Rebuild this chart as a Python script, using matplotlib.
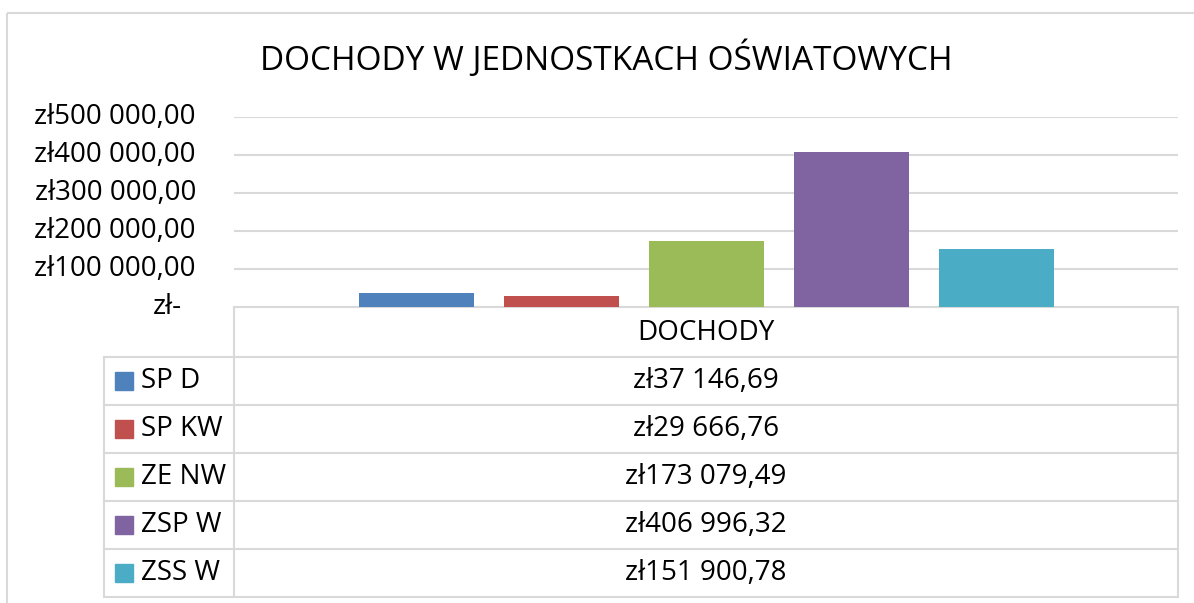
import matplotlib
matplotlib.use("Agg")
import matplotlib.pyplot as plt
from matplotlib.patches import Rectangle

plt.rcParams['font.family'] = ['Open Sans', 'DejaVu Sans']

category = "DOCHODY"
names = ["SP D", "SP KW", "ZE NW", "ZSP W", "ZSS W"]
values = [37146.69, 29666.76, 173079.49, 406996.32, 151900.78]
colors = ["#4F81BD", "#C0504D", "#9BBB59", "#8064A2", "#4BACC6"]
yticks = [0, 100000, 200000, 300000, 400000, 500000]


def zl(v):
    if v == 0:
        return "zł-"
    s = f"{v:,.2f}".replace(",", " ").replace(".", ",")
    return "zł" + s


W, H = 1194, 603
fig = plt.figure(figsize=(W / 100, H / 100), dpi=100)

# overlay in pixel coordinates for frame and data table
ov = fig.add_axes([0, 0, 1, 1])
ov.set_xlim(0, W)
ov.set_ylim(H, 0)
ov.axis("off")
grid_c = "#D9D9D9"
ov.add_patch(Rectangle((7, 13), 1200, 600, fill=False, ec=grid_c, lw=1.5))

# plot area
L, R, T, B = 234, 1178, 117, 307
ax = fig.add_axes([L / W, 1 - B / H, (R - L) / W, (B - T) / H])
n = len(values)
step = 145
span = (R - L) / step
xs = [i - (n - 1) / 2 for i in range(n)]
ax.bar(xs, values, width=115 / step, color=colors, zorder=3)
ax.set_xlim(-span / 2, span / 2)
ax.set_ylim(0, 500000)
ax.set_yticks(yticks)
ax.yaxis.grid(True, color=grid_c, lw=1.5, zorder=0)
ax.tick_params(left=False, bottom=False, labelleft=False, labelbottom=False)
for s in ax.spines.values():
    s.set_visible(False)
for v in yticks:
    off = -38 if v else -52
    ax.annotate(zl(v), (0, v), xycoords=ax.get_yaxis_transform(),
                xytext=(off * 0.72, 0), textcoords="offset points",
                ha="right", va="center", fontsize=20, color="black")

fig.text(606 / W, 1 - 59 / H, "DOCHODY W JEDNOSTKACH OŚWIATOWYCH",
         ha="center", va="center", fontsize=24)

# data table
row_h = 48
top = B
legend_x = 104
ov.plot([L, R], [top, top], color=grid_c, lw=1.5)
for k in range(n + 1):
    y = top + row_h * (k + 1) + 2
    ov.plot([legend_x, R], [y, y], color=grid_c, lw=1.5)
bottom = top + row_h * (n + 1) + 2
ov.plot([L, L], [top, bottom], color=grid_c, lw=1.5)
ov.plot([R, R], [top, bottom], color=grid_c, lw=1.5)
ov.plot([legend_x, legend_x], [top + row_h + 2, bottom], color=grid_c, lw=1.5)

mid = (L + R) / 2
ov.text(mid, top + row_h / 2 + 2, category, ha="center", va="center", fontsize=20)
for k, (nm, v, c) in enumerate(zip(names, values, colors)):
    yc = top + row_h * (k + 1.5) + 2
    ov.add_patch(Rectangle((115, yc - 9), 18, 18, color=c))
    ov.text(141, yc, nm, ha="left", va="center", fontsize=20)
    ov.text(mid, yc, zl(v), ha="center", va="center", fontsize=20)

fig.savefig("out.png", dpi=100, facecolor="white")
